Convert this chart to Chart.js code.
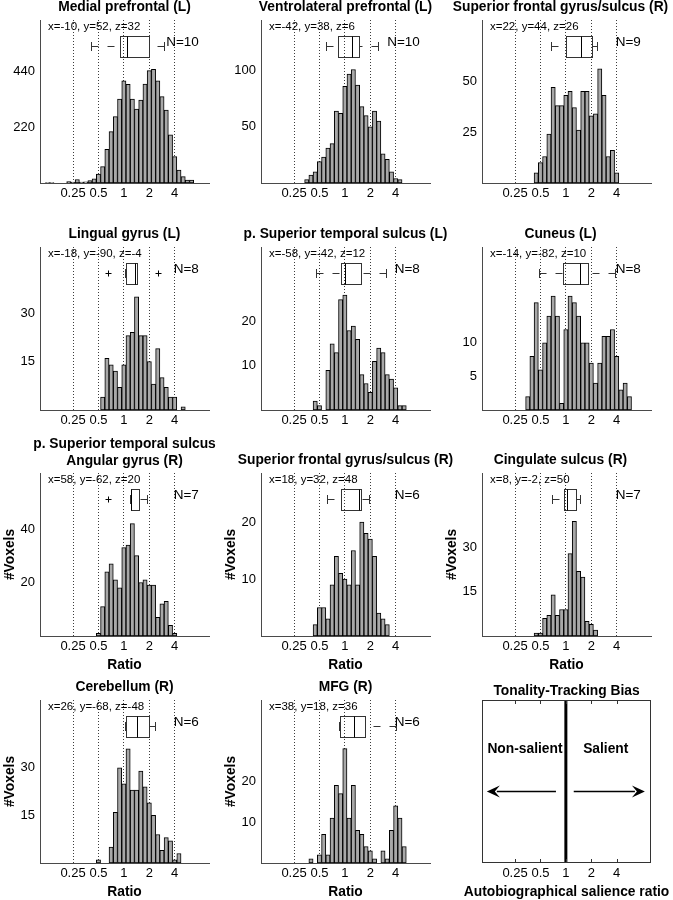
<!DOCTYPE html>
<html>
<head>
<meta charset="utf-8">
<script src="https://cdn.jsdelivr.net/npm/chart.js@4.4.1/dist/chart.umd.min.js"></script>
<style>
html,body{margin:0;padding:0;background:#fff;overflow:hidden;}
body{position:relative;width:673px;height:900px;}
canvas{position:absolute;}
</style>
</head>
<body>
<script>
// ---------- shared axis data (x axis is log2 of the ratio) ----------
const ratioTickValues = [-2, -1, 0, 1, 2];
const ratioTickLabels = ['0.25', '0.5', '1', '2', '4'];
const binWidth = 1 / 6; // histogram bin width in log2 units

// ---------- panel texts ----------
const regionTitles = [
  'Medial prefrontal (L)', 'Ventrolateral prefrontal (L)', 'Superior frontal gyrus/sulcus (R)',
  'Lingual gyrus (L)', 'p. Superior temporal sulcus (L)', 'Cuneus (L)',
  ['p. Superior temporal sulcus', 'Angular gyrus (R)'], 'Superior frontal gyrus/sulcus (R)', 'Cingulate sulcus (R)',
  'Cerebellum (R)', 'MFG (R)'
];
const peakCoords = [
  'x=-10, y=52, z=32', 'x=-42, y=38, z=6', 'x=22, y=44, z=26',
  'x=-18, y=-90, z=-4', 'x=-58, y=-42, z=12', 'x=-14, y=-82, z=10',
  'x=58, y=-62, z=20', 'x=18, y=32, z=48', 'x=8, y=-2, z=50',
  'x=26, y=-68, z=-48', 'x=38, y=18, z=36'
];
const subjectN = ['N=10', 'N=10', 'N=9', 'N=8', 'N=8', 'N=8', 'N=7', 'N=6', 'N=7', 'N=6', 'N=6'];

// ---------- histogram counts (first bin index, in bins of 1/6 octave) ----------
const firstBin = [-18, -9, -7, -5, -7, -9, -6, -7, -7, -6, -8];
const countsMedialPF   = [2,2,0,0,0,6,4,14,4,5,10,16,35,65,133,203,262,332,404,390,332,292,328,391,444,449,404,341,288,190,104,51,25,12,12];
const countsVentroPF   = [3,7,10,19,23,31,35,64,62,86,97,101,87,68,60,50,64,55,26,21,10,4,3];
const countsSupFront1  = [5,10,13,24,47,38,38,43,45,37,26,45,45,33,34,56,43,13,16,5];
const countsLingual    = [4,16,14,12,7,14,23,24,35,23,23,15,8,19,10,7,4,4,0,1];
const countsPostSTS_L  = [2,1,0,9,15,13,25,26,18,19,16,8,6,4,11,14,13,8,7,5,1,1];
const countsCuneus     = [2,8,16,6,10,14,17,14,1,12,17,16,14,10,10,7,4,7,11,11,12,8,3,4,2];
const countsAngular    = [1,11,24,27,21,18,33,34,42,30,20,21,19,19,7,12,13,4,1];
const countsSupFront2  = [2,5,5,3,9,14,11,10,9,15,9,20,18,17,14,4,3,2];
const countsCingulate  = [1,1,6,7,14,7,9,9,28,39,22,20,5,4,2];
const countsCerebellum = [1,0,0,5,16,30,25,36,23,23,29,24,19,15,9,4,8,7,1,3];
const countsMFG        = [1,0,2,7,2,11,19,17,28,11,19,8,7,4,3,1,0,3,1,8,14,11,4];

// ---------- box plots of subject ratios (log2): [lower whisker, q1, median, q3, upper whisker] ----------
const boxMedialPF   = [-1.28, -0.158, 0.119, 0.975, 1.59];
const boxVentroPF   = [-0.725, -0.263, 0.277, 0.567, 1.29];
const boxSupFront1  = [-0.58, 0.0, 0.593, 1.04, 1.225];
const boxLingual    = [0.026, 0.079, 0.44, 0.514, 0.52];
const boxPostSTS_L  = [-1.146, -0.158, 0.0, 0.632, 1.62];
const boxCuneus     = [-1.04, -0.119, 0.54, 0.87, 1.92];
const boxAngular    = [0.25, 0.277, 0.30, 0.606, 0.896];
const boxSupFront2  = [-0.71, -0.158, 0.54, 0.63, 0.96];
const boxCingulate  = [-0.54, -0.079, 0.04, 0.38, 0.567];
const boxCerebellum = [0.04, 0.08, 0.514, 1.0, 1.225];
const boxMFG        = [-0.224, -0.184, 0.343, 0.8, 2.02];
const outliersLingual = [-0.606, 1.357];
const outliersAngular = [-0.606];

// ---------- y axes ----------
const yAxisMax = [644, 145, 80, 50.4, 36.9, 24.3, 60.9, 28.6, 55.4, 51.4, 39.9];
const yAxisTicks = [[220,440],[50,100],[25,50],[15,30],[10,20],[5,10],[20,40],[10,20],[15,30],[15,30],[10,20]];

// ---------- legend panel ----------
const legendTitle = 'Tonality-Tracking Bias';
const legendSides = ['Non-salient', 'Salient'];
const legendXLabel = 'Autobiographical salience ratio';

// ====================================================================
const countSeries = [countsMedialPF, countsVentroPF, countsSupFront1, countsLingual, countsPostSTS_L, countsCuneus,
  countsAngular, countsSupFront2, countsCingulate, countsCerebellum, countsMFG];
const boxSeries = [boxMedialPF, boxVentroPF, boxSupFront1, boxLingual, boxPostSTS_L, boxCuneus,
  boxAngular, boxSupFront2, boxCingulate, boxCerebellum, boxMFG];
const outlierSeries = [[], [], [], outliersLingual, [], [], outliersAngular, [], [], [], []];

Chart.defaults.font.family = '"Liberation Sans", Arial, Helvetica, sans-serif';
Chart.defaults.color = '#000';

const colLeft = [40, 261, 482];
const rowTop = [20, 247, 473, 700];
const PW = 169, PH = 163, AX = 45, TOPB = 40, BOTB = 40;
const colRightSpace = [45, 45, 33];
const XMIN = -3.3, XMAX = 3.35;
const BOLD = {size: 13.8, weight: 'bold', lineHeight: 1.2};

function makeCanvas(col, row) {
  const c = document.createElement('canvas');
  c.width = PW + AX + colRightSpace[col];
  c.height = TOPB + PH + BOTB;
  c.style.left = (colLeft[col] - AX) + 'px';
  c.style.top = (rowTop[row] - TOPB) + 'px';
  document.body.appendChild(c);
  return c;
}

function xScale(showTitle, showGrid, axisH) {
  return {
    type: 'linear', min: XMIN, max: XMAX, offset: false,
    afterBuildTicks: s => { s.ticks = ratioTickValues.map(v => ({value: v})); },
    afterFit: s => { s.height = axisH; },
    grid: {display: showGrid, drawOnChartArea: true, drawTicks: false, color: '#3c3c3c', lineWidth: 1, offset: false},
    border: {display: showGrid, color: '#4a4a4a', width: 1, dash: [1, 2]},
    ticks: {padding: 3, autoSkip: false, maxRotation: 0, font: {size: 13},
      callback: v => ratioTickLabels[ratioTickValues.indexOf(v)]},
    title: {display: showTitle, text: 'Ratio', font: BOLD, padding: {top: 0, bottom: 2.7}}
  };
}
function yScale(max, ticks, showTitle) {
  return {
    type: 'linear', position: 'left', min: 0, max: max,
    afterBuildTicks: s => { s.ticks = ticks.map(v => ({value: v})); },
    afterFit: s => { s.width = AX; },
    grid: {display: false, drawTicks: false},
    border: {display: true, color: '#4a4a4a', width: 1},
    ticks: {padding: 5, font: {size: 13}},
    title: {display: showTitle, text: '#Voxels', font: BOLD, padding: {top: 7, bottom: 0}}
  };
}
function rightSpacer(w) {
  return {
    type: 'linear', position: 'right', display: true, min: 0, max: 1,
    afterFit: s => { s.width = w; },
    grid: {display: false, drawTicks: false}, border: {display: false}, ticks: {display: false}
  };
}

function line(ctx, x1, y1, x2, y2) { ctx.beginPath(); ctx.moveTo(x1, y1); ctx.lineTo(x2, y2); ctx.stroke(); }
const crisp = v => Math.round(v) + 0.5;

function boxPlugin(i) {
  return {
    id: 'boxAnno' + i,
    afterDatasetsDraw(chart) {
      const {ctx, chartArea: ca, scales: {x}} = chart;
      const [lo, q1, med, q3, hi] = boxSeries[i];
      const px = v => crisp(x.getPixelForValue(v));
      const yc = ca.top + 26.5, hh = 10.5, ch = 4.5;
      ctx.save();
      ctx.strokeStyle = '#333'; ctx.lineWidth = 1;
      ctx.setLineDash([7, 9]);
      if (px(lo) < px(q1)) line(ctx, px(lo), yc, px(q1), yc);
      if (px(hi) > px(q3)) line(ctx, px(hi), yc, px(q3), yc);
      ctx.setLineDash([]);
      line(ctx, px(lo), yc - ch, px(lo), yc + ch);
      line(ctx, px(hi), yc - ch, px(hi), yc + ch);
      ctx.strokeRect(px(q1), Math.round(yc - hh) + 0.5, px(q3) - px(q1), Math.round(2 * hh));
      ctx.strokeStyle = '#000';
      line(ctx, px(med), Math.round(yc - hh) + 0.5, px(med), Math.round(yc + hh) + 0.5);
      outlierSeries[i].forEach(v => {
        const ox = px(v);
        line(ctx, ox - 3, yc, ox + 3, yc);
        line(ctx, ox, yc - 3, ox, yc + 3);
      });
      ctx.fillStyle = '#000';
      ctx.textBaseline = 'middle';
      ctx.textAlign = 'left';
      ctx.font = '11.5px "Liberation Sans", Arial, sans-serif';
      ctx.fillText(peakCoords[i], ca.left + 8, ca.top + 7);
      ctx.textAlign = 'right';
      ctx.font = '13.5px "Liberation Sans", Arial, sans-serif';
      ctx.fillText(subjectN[i], x.getPixelForValue(2.95), ca.top + 22);
      ctx.restore();
    }
  };
}

for (let i = 0; i < 11; i++) {
  const col = i % 3, row = Math.floor(i / 3);
  const canvas = makeCanvas(col, row);
  const twoLine = Array.isArray(regionTitles[i]);
  const bars = countSeries[i].map((c, k) => ({x: (firstBin[i] + k) * binWidth, y: c}));
  const lower = row >= 2;
  new Chart(canvas, {
    type: 'bar',
    data: {datasets: [{
      data: bars, backgroundColor: '#a8a8a8', borderColor: '#000', borderWidth: 1,
      borderSkipped: false, barPercentage: 1, categoryPercentage: 1, grouped: false
    }]},
    options: {
      responsive: false, animation: false, devicePixelRatio: 1, events: [],
      layout: {padding: 0},
      plugins: {
        legend: {display: false}, tooltip: {enabled: false},
        title: {display: true, text: regionTitles[i], font: BOLD, color: '#000',
          padding: twoLine ? {top: 3.4, bottom: 3.48} : {top: 19.2, bottom: 4.24}}
      },
      scales: {
        x: xScale(lower, true, BOTB),
        y: yScale(yAxisMax[i], yAxisTicks[i], lower),
        yr: rightSpacer(colRightSpace[col])
      }
    },
    plugins: [boxPlugin(i)]
  });
}

// ---------- legend panel ----------
const legendPlugin = {
  id: 'legendPanel',
  afterDatasetsDraw(chart) {
    const {ctx, chartArea: ca, scales: {x, y}} = chart;
    ctx.save();
    ctx.strokeStyle = '#333'; ctx.lineWidth = 1;
    ctx.strokeRect(crisp(ca.left), crisp(ca.top), Math.round(ca.width) - 1, Math.round(ca.height) - 1);
    ratioTickValues.forEach(v => {
      const px = crisp(x.getPixelForValue(v));
      line(ctx, px, ca.top, px, ca.top + 4);
      line(ctx, px, ca.bottom, px, ca.bottom - 4);
    });
    const ay = y.getPixelForValue(0.438);
    const arrows = [[-0.39, -3.11], [0.31, 3.11]];
    ctx.strokeStyle = '#000'; ctx.fillStyle = '#000'; ctx.lineWidth = 1.5;
    arrows.forEach(([from, to]) => {
      const x1 = x.getPixelForValue(from), x2 = x.getPixelForValue(to);
      const dir = Math.sign(x2 - x1);
      line(ctx, x1, ay, x2 - dir * 10, ay);
      ctx.beginPath();
      ctx.moveTo(x2, ay);
      ctx.lineTo(x2 - dir * 13, ay - 6);
      ctx.lineTo(x2 - dir * 8, ay);
      ctx.lineTo(x2 - dir * 13, ay + 6);
      ctx.closePath();
      ctx.fill();
    });
    ctx.font = 'bold 13.8px "Liberation Sans", Arial, sans-serif';
    ctx.textAlign = 'center'; ctx.textBaseline = 'middle';
    const ly = y.getPixelForValue(0.70);
    ctx.fillText(legendSides[0], x.getPixelForValue(-1.61), ly);
    ctx.fillText(legendSides[1], x.getPixelForValue(1.57), ly);
    ctx.restore();
  }
};
(function () {
  const canvas = makeCanvas(2, 3);
  canvas.width = PW + 2 * AX;
  new Chart(canvas, {
    type: 'line',
    data: {datasets: [{data: [{x: 0, y: 0}, {x: 0, y: 1}], borderColor: '#000', borderWidth: 3, pointRadius: 0}]},
    options: {
      responsive: false, animation: false, devicePixelRatio: 1, events: [],
      layout: {padding: 0},
      plugins: {
        legend: {display: false}, tooltip: {enabled: false},
        title: {display: true, text: legendTitle, font: BOLD, color: '#000', padding: {top: 23.4, bottom: 0.04}},
        subtitle: {display: true, position: 'bottom', text: legendXLabel, font: BOLD, color: '#000', padding: {top: 0.7, bottom: 2.74}}
      },
      scales: {
        x: xScale(false, false, 20),
        y: {type: 'linear', position: 'left', min: 0, max: 1, afterFit: s => { s.width = AX; },
          grid: {display: false, drawTicks: false}, border: {display: false}, ticks: {display: false}},
        yr: rightSpacer(AX)
      }
    },
    plugins: [legendPlugin]
  });
})();
</script>
</body>
</html>
